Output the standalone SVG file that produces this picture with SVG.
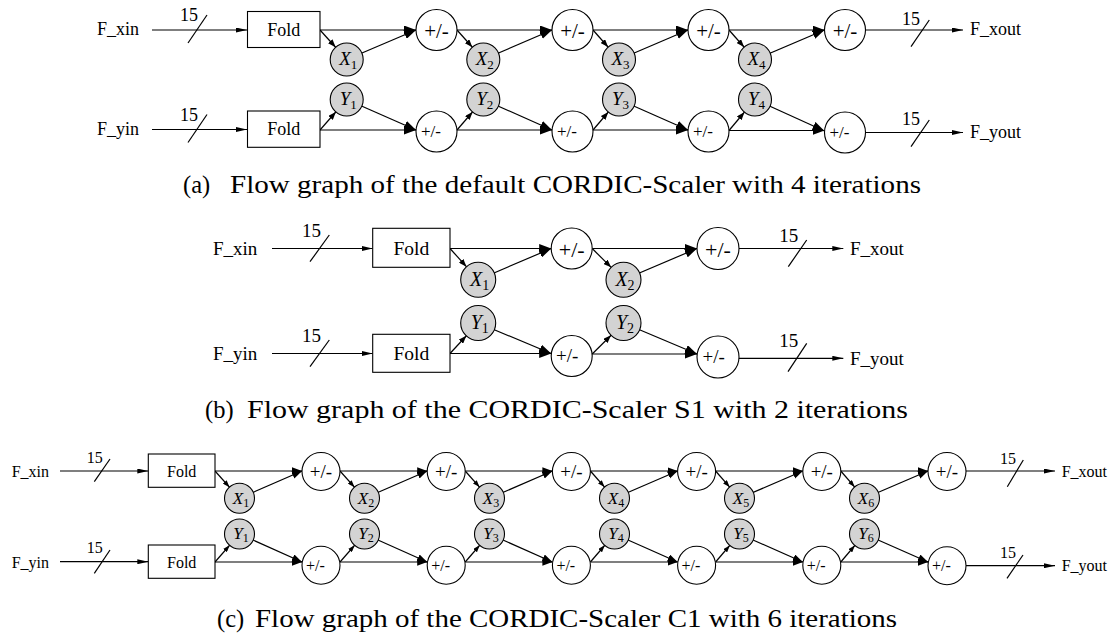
<svg xmlns="http://www.w3.org/2000/svg" width="1115" height="642" viewBox="0 0 1115 642">
<style>
text{font-family:"Liberation Serif",serif;fill:#000}
.e{stroke:#000;stroke-width:1.2;fill:none}
.pm{fill:#fff;stroke:#000;stroke-width:1.1}
.g{fill:#d3d3d3;stroke:#000;stroke-width:1.1}
.box{fill:#fff;stroke:#000;stroke-width:1.1}
.it{font-style:italic}
.m{text-anchor:middle}
.cap{font-size:24.5px}
</style>
<defs>
<marker id="an" markerUnits="userSpaceOnUse" markerWidth="12" markerHeight="5" refX="11" refY="2.5" orient="auto"><path d="M0,0 L11,2.5 L0,5 z" fill="#000"/></marker>
<marker id="ab" markerUnits="userSpaceOnUse" markerWidth="13" markerHeight="9" refX="12" refY="4.5" orient="auto"><path d="M0,0 L12,4.5 L0,9 z" fill="#000"/></marker>
<marker id="abc" markerUnits="userSpaceOnUse" markerWidth="11" markerHeight="8" refX="10" refY="3.75" orient="auto"><path d="M0,0 L10,3.75 L0,7.5 z" fill="#000"/></marker>
<marker id="axa" markerUnits="userSpaceOnUse" markerWidth="9" markerHeight="6" refX="24.5" refY="3" orient="auto"><path d="M0,0 L8,3 L0,6 z" fill="#000"/></marker>
<marker id="axb" markerUnits="userSpaceOnUse" markerWidth="9" markerHeight="6" refX="25.5" refY="3" orient="auto"><path d="M0,0 L8,3 L0,6 z" fill="#000"/></marker>
<marker id="axc" markerUnits="userSpaceOnUse" markerWidth="8" markerHeight="5" refX="22" refY="2.5" orient="auto"><path d="M0,0 L7,2.5 L0,5 z" fill="#000"/></marker>
</defs>

<g id="connectors">
<!-- panel a top -->
<path class="e" d="M152,30 H247" marker-end="url(#an)"/>
<path class="e" d="M188,43 L207,15"/>
<path class="e" d="M320,30 H416" marker-end="url(#ab)"/>
<path class="e" d="M320,30 L346.7,59.5" marker-end="url(#axa)"/>
<path class="e" d="M346.7,59.5 L416,30" marker-end="url(#ab)"/>
<path class="e" d="M457,30 H552" marker-end="url(#ab)"/>
<path class="e" d="M457,30 L483.3,59.5" marker-end="url(#axa)"/>
<path class="e" d="M483.3,59.5 L552,30" marker-end="url(#ab)"/>
<path class="e" d="M593,30 H688" marker-end="url(#ab)"/>
<path class="e" d="M593,30 L619,59.5" marker-end="url(#axa)"/>
<path class="e" d="M619,59.5 L688,30" marker-end="url(#ab)"/>
<path class="e" d="M729,30 H824.5" marker-end="url(#ab)"/>
<path class="e" d="M729,30 L755,59.5" marker-end="url(#axa)"/>
<path class="e" d="M755,59.5 L824.5,30" marker-end="url(#ab)"/>
<path class="e" d="M865.5,30 H963" marker-end="url(#an)"/>
<path class="e" d="M911,46.7 L929.3,20"/>
<!-- panel a bottom -->
<path class="e" d="M152,129.5 H247" marker-end="url(#an)"/>
<path class="e" d="M188,142.5 L207,114.5"/>
<path class="e" d="M320,130 H416" marker-end="url(#ab)"/>
<path class="e" d="M320,130 L346.7,99.5" marker-end="url(#axa)"/>
<path class="e" d="M346.7,99.5 L416,130" marker-end="url(#ab)"/>
<path class="e" d="M457,130 H552" marker-end="url(#ab)"/>
<path class="e" d="M457,130 L483.3,99.5" marker-end="url(#axa)"/>
<path class="e" d="M483.3,99.5 L552,130" marker-end="url(#ab)"/>
<path class="e" d="M593,130 H688" marker-end="url(#ab)"/>
<path class="e" d="M593,130 L619,99.5" marker-end="url(#axa)"/>
<path class="e" d="M619,99.5 L688,130" marker-end="url(#ab)"/>
<path class="e" d="M729,130.5 H824.5" marker-end="url(#ab)"/>
<path class="e" d="M729,130.5 L755,99.5" marker-end="url(#axa)"/>
<path class="e" d="M755,99.5 L824.5,131" marker-end="url(#ab)"/>
<path class="e" d="M865.5,132.5 H963" marker-end="url(#an)"/>
<path class="e" d="M911,146.7 L929.3,120"/>

<!-- panel b top -->
<path class="e" d="M272,248.5 H372.7" marker-end="url(#an)"/>
<path class="e" d="M310,261.7 L329.3,235"/>
<path class="e" d="M450,248.5 H551.2" marker-end="url(#ab)"/>
<path class="e" d="M450,248.5 L478.2,279.7" marker-end="url(#axb)"/>
<path class="e" d="M478.2,279.7 L551.2,248.5" marker-end="url(#ab)"/>
<path class="e" d="M592.2,248.5 H697" marker-end="url(#ab)"/>
<path class="e" d="M592.2,248.5 L623.5,279.7" marker-end="url(#axb)"/>
<path class="e" d="M623.5,279.7 L697,248.5" marker-end="url(#ab)"/>
<path class="e" d="M739,248.5 H843.3" marker-end="url(#an)"/>
<path class="e" d="M788.3,266.7 L806.7,240"/>
<!-- panel b bottom -->
<path class="e" d="M272,353.5 H372.7" marker-end="url(#an)"/>
<path class="e" d="M310,366.7 L329.3,340"/>
<path class="e" d="M450,353.5 H551.2" marker-end="url(#ab)"/>
<path class="e" d="M450,353.5 L478.2,323" marker-end="url(#axb)"/>
<path class="e" d="M478.2,323 L551.2,353.5" marker-end="url(#ab)"/>
<path class="e" d="M592.2,354 H697" marker-end="url(#ab)"/>
<path class="e" d="M592.2,354 L623.5,323" marker-end="url(#axb)"/>
<path class="e" d="M623.5,323 L697,354" marker-end="url(#ab)"/>
<path class="e" d="M739,358.3 H843.3" marker-end="url(#an)"/>
<path class="e" d="M788,371.7 L806.7,343.3"/>

<!-- panel c top -->
<path class="e" d="M60,471 H148.3" marker-end="url(#an)"/>
<path class="e" d="M94.3,481.7 L110,459"/>
<path class="e" d="M215,471 H302" marker-end="url(#abc)"/>
<path class="e" d="M215,471 L239.5,498.3" marker-end="url(#axc)"/>
<path class="e" d="M239.5,498.3 L302,471" marker-end="url(#abc)"/>
<path class="e" d="M340,471 H427.2" marker-end="url(#abc)"/>
<path class="e" d="M340,471 L364.5,498.3" marker-end="url(#axc)"/>
<path class="e" d="M364.5,498.3 L427.2,471" marker-end="url(#abc)"/>
<path class="e" d="M465.2,471 H552.4" marker-end="url(#abc)"/>
<path class="e" d="M465.2,471 L489.5,498.3" marker-end="url(#axc)"/>
<path class="e" d="M489.5,498.3 L552.4,471" marker-end="url(#abc)"/>
<path class="e" d="M590.4,471 H677.6" marker-end="url(#abc)"/>
<path class="e" d="M590.4,471 L614.5,498.3" marker-end="url(#axc)"/>
<path class="e" d="M614.5,498.3 L677.6,471" marker-end="url(#abc)"/>
<path class="e" d="M715.6,471 H802.8" marker-end="url(#abc)"/>
<path class="e" d="M715.6,471 L739.5,498.3" marker-end="url(#axc)"/>
<path class="e" d="M739.5,498.3 L802.8,471" marker-end="url(#abc)"/>
<path class="e" d="M840.8,471 H928" marker-end="url(#abc)"/>
<path class="e" d="M840.8,471 L864.5,498.3" marker-end="url(#axc)"/>
<path class="e" d="M864.5,498.3 L928,471" marker-end="url(#abc)"/>
<path class="e" d="M966,471 H1055" marker-end="url(#an)"/>
<path class="e" d="M1007.3,486.7 L1023.3,460"/>
<!-- panel c bottom -->
<path class="e" d="M60,561.7 H148.3" marker-end="url(#an)"/>
<path class="e" d="M94.3,573.3 L110,550"/>
<path class="e" d="M215,562 H302" marker-end="url(#abc)"/>
<path class="e" d="M215,562 L239.5,534" marker-end="url(#axc)"/>
<path class="e" d="M239.5,534 L302,562" marker-end="url(#abc)"/>
<path class="e" d="M340,562 H427.2" marker-end="url(#abc)"/>
<path class="e" d="M340,562 L364.5,534" marker-end="url(#axc)"/>
<path class="e" d="M364.5,534 L427.2,562" marker-end="url(#abc)"/>
<path class="e" d="M465.2,562 H552.4" marker-end="url(#abc)"/>
<path class="e" d="M465.2,562 L489.5,534" marker-end="url(#axc)"/>
<path class="e" d="M489.5,534 L552.4,562" marker-end="url(#abc)"/>
<path class="e" d="M590.4,562 H677.6" marker-end="url(#abc)"/>
<path class="e" d="M590.4,562 L614.5,534" marker-end="url(#axc)"/>
<path class="e" d="M614.5,534 L677.6,562" marker-end="url(#abc)"/>
<path class="e" d="M715.6,562 H802.8" marker-end="url(#abc)"/>
<path class="e" d="M715.6,562 L739.5,534" marker-end="url(#axc)"/>
<path class="e" d="M739.5,534 L802.8,562" marker-end="url(#abc)"/>
<path class="e" d="M840.8,562 H928" marker-end="url(#abc)"/>
<path class="e" d="M840.8,562 L864.5,534" marker-end="url(#axc)"/>
<path class="e" d="M864.5,534 L928,562" marker-end="url(#abc)"/>
<path class="e" d="M966,565.7 H1055" marker-end="url(#an)"/>
<path class="e" d="M1007,578.3 L1023,555"/>
</g>

<!-- ================= Panel A ================= -->
<g id="a-labels" font-size="18">
<text x="97" y="35">F_xin</text>
<text x="97" y="135">F_yin</text>
<text x="180" y="20.5">15</text>
<text x="180" y="121">15</text>
<text x="902" y="25">15</text>
<text x="902" y="124.5">15</text>
<text x="970" y="35">F_xout</text>
<text x="970" y="138">F_yout</text>
</g>
<g id="a-foldx"><rect class="box" x="247.5" y="11.5" width="72.5" height="36"/><text class="m" x="283.7" y="35.5" font-size="18">Fold</text></g>
<g id="a-foldy"><rect class="box" x="247.5" y="111" width="72.5" height="36.3"/><text class="m" x="283.7" y="135" font-size="18">Fold</text></g>
<g id="a-x1"><circle class="g" cx="346.7" cy="59.5" r="16.5"/><text class="m" x="348.2" y="65" font-size="19"><tspan class="it">X</tspan><tspan font-size="13" dy="3.5">1</tspan></text></g>
<g id="a-x2"><circle class="g" cx="483.3" cy="59.5" r="16.5"/><text class="m" x="484.8" y="65" font-size="19"><tspan class="it">X</tspan><tspan font-size="13" dy="3.5">2</tspan></text></g>
<g id="a-x3"><circle class="g" cx="619" cy="59.5" r="16.5"/><text class="m" x="620.5" y="65" font-size="19"><tspan class="it">X</tspan><tspan font-size="13" dy="3.5">3</tspan></text></g>
<g id="a-x4"><circle class="g" cx="755" cy="59.5" r="16.5"/><text class="m" x="756.5" y="65" font-size="19"><tspan class="it">X</tspan><tspan font-size="13" dy="3.5">4</tspan></text></g>
<g id="a-y1"><circle class="g" cx="346.7" cy="99.5" r="16.5"/><text class="m" x="348.2" y="105" font-size="19"><tspan class="it">Y</tspan><tspan font-size="13" dy="3.5">1</tspan></text></g>
<g id="a-y2"><circle class="g" cx="483.3" cy="99.5" r="16.5"/><text class="m" x="484.8" y="105" font-size="19"><tspan class="it">Y</tspan><tspan font-size="13" dy="3.5">2</tspan></text></g>
<g id="a-y3"><circle class="g" cx="619" cy="99.5" r="16.5"/><text class="m" x="620.5" y="105" font-size="19"><tspan class="it">Y</tspan><tspan font-size="13" dy="3.5">3</tspan></text></g>
<g id="a-y4"><circle class="g" cx="755" cy="99.5" r="16.5"/><text class="m" x="756.5" y="105" font-size="19"><tspan class="it">Y</tspan><tspan font-size="13" dy="3.5">4</tspan></text></g>
<g id="a-px1"><circle class="pm" cx="436.5" cy="30" r="20.5"/><text class="m" x="436.5" y="37.5" font-size="21">+/-</text></g>
<g id="a-px2"><circle class="pm" cx="572.5" cy="30" r="20.5"/><text class="m" x="572.5" y="37.5" font-size="21">+/-</text></g>
<g id="a-px3"><circle class="pm" cx="708.5" cy="30" r="20.5"/><text class="m" x="708.5" y="37.5" font-size="21">+/-</text></g>
<g id="a-px4"><circle class="pm" cx="845" cy="30" r="20.5"/><text class="m" x="845" y="37.5" font-size="21">+/-</text></g>
<g id="a-py1"><circle class="pm" cx="436.5" cy="131.5" r="20.5"/><text x="421" y="137" font-size="17">+/-</text></g>
<g id="a-py2"><circle class="pm" cx="572.5" cy="131.5" r="20.5"/><text x="557" y="137" font-size="17">+/-</text></g>
<g id="a-py3"><circle class="pm" cx="708.5" cy="131.5" r="20.5"/><text x="693" y="137" font-size="17">+/-</text></g>
<g id="a-py4"><circle class="pm" cx="845" cy="132.5" r="20.5"/><text x="829.5" y="138" font-size="17">+/-</text></g>

<!-- ================= Panel B ================= -->
<g id="b-labels" font-size="19">
<text x="213" y="255">F_xin</text>
<text x="213" y="360">F_yin</text>
<text x="302" y="237">15</text>
<text x="302" y="342">15</text>
<text x="779.3" y="242">15</text>
<text x="779.3" y="347">15</text>
<text x="850" y="255">F_xout</text>
<text x="850" y="365">F_yout</text>
</g>
<g id="b-foldx"><rect class="box" x="372.7" y="228.3" width="77.3" height="39"/><text class="m" x="411.3" y="255" font-size="19.5">Fold</text></g>
<g id="b-foldy"><rect class="box" x="372.7" y="334.3" width="77.3" height="38"/><text class="m" x="411.3" y="360" font-size="19.5">Fold</text></g>
<g id="b-x1"><circle class="g" cx="478.2" cy="279.7" r="17.5"/><text class="m" x="479.7" y="286" font-size="20"><tspan class="it">X</tspan><tspan font-size="14" dy="3.5">1</tspan></text></g>
<g id="b-x2"><circle class="g" cx="623.5" cy="279.7" r="17.5"/><text class="m" x="625" y="286" font-size="20"><tspan class="it">X</tspan><tspan font-size="14" dy="3.5">2</tspan></text></g>
<g id="b-y1"><circle class="g" cx="478.2" cy="323" r="17.5"/><text class="m" x="479.7" y="329.3" font-size="20"><tspan class="it">Y</tspan><tspan font-size="14" dy="3.5">1</tspan></text></g>
<g id="b-y2"><circle class="g" cx="623.5" cy="323" r="17.5"/><text class="m" x="625" y="329.3" font-size="20"><tspan class="it">Y</tspan><tspan font-size="14" dy="3.5">2</tspan></text></g>
<g id="b-px1"><circle class="pm" cx="571.7" cy="248.5" r="20.5"/><text class="m" x="571.7" y="256.5" font-size="22">+/-</text></g>
<g id="b-px2"><circle class="pm" cx="718" cy="248.5" r="21"/><text class="m" x="718" y="256.5" font-size="22">+/-</text></g>
<g id="b-py1"><circle class="pm" cx="571.7" cy="356" r="20.5"/><text x="556" y="362" font-size="19">+/-</text></g>
<g id="b-py2"><circle class="pm" cx="718" cy="357" r="21"/><text x="702.5" y="363" font-size="19">+/-</text></g>

<!-- ================= Panel C ================= -->
<g id="c-labels" font-size="16">
<text x="11.7" y="477">F_xin</text>
<text x="11.7" y="568">F_yin</text>
<text x="86.7" y="462.5">15</text>
<text x="86.7" y="553.3">15</text>
<text x="1000" y="463.5">15</text>
<text x="1000" y="558">15</text>
<text x="1061.7" y="477">F_xout</text>
<text x="1061.7" y="571">F_yout</text>
</g>
<g id="c-foldx"><rect class="box" x="148.3" y="454" width="66.7" height="33.3"/><text class="m" x="181.7" y="476.5" font-size="16">Fold</text></g>
<g id="c-foldy"><rect class="box" x="148.3" y="545" width="66.7" height="33.3"/><text class="m" x="181.7" y="567.5" font-size="16">Fold</text></g>
<g id="c-x1"><circle class="g" cx="239.5" cy="498.3" r="15"/><text class="m" x="241" y="503.5" font-size="17"><tspan class="it">X</tspan><tspan font-size="12" dy="3">1</tspan></text></g>
<g id="c-x2"><circle class="g" cx="364.5" cy="498.3" r="15"/><text class="m" x="366" y="503.5" font-size="17"><tspan class="it">X</tspan><tspan font-size="12" dy="3">2</tspan></text></g>
<g id="c-x3"><circle class="g" cx="489.5" cy="498.3" r="15"/><text class="m" x="491" y="503.5" font-size="17"><tspan class="it">X</tspan><tspan font-size="12" dy="3">3</tspan></text></g>
<g id="c-x4"><circle class="g" cx="614.5" cy="498.3" r="15"/><text class="m" x="616" y="503.5" font-size="17"><tspan class="it">X</tspan><tspan font-size="12" dy="3">4</tspan></text></g>
<g id="c-x5"><circle class="g" cx="739.5" cy="498.3" r="15"/><text class="m" x="741" y="503.5" font-size="17"><tspan class="it">X</tspan><tspan font-size="12" dy="3">5</tspan></text></g>
<g id="c-x6"><circle class="g" cx="864.5" cy="498.3" r="15"/><text class="m" x="866" y="503.5" font-size="17"><tspan class="it">X</tspan><tspan font-size="12" dy="3">6</tspan></text></g>
<g id="c-y1"><circle class="g" cx="239.5" cy="534" r="15"/><text class="m" x="241" y="539.2" font-size="17"><tspan class="it">Y</tspan><tspan font-size="12" dy="3">1</tspan></text></g>
<g id="c-y2"><circle class="g" cx="364.5" cy="534" r="15"/><text class="m" x="366" y="539.2" font-size="17"><tspan class="it">Y</tspan><tspan font-size="12" dy="3">2</tspan></text></g>
<g id="c-y3"><circle class="g" cx="489.5" cy="534" r="15"/><text class="m" x="491" y="539.2" font-size="17"><tspan class="it">Y</tspan><tspan font-size="12" dy="3">3</tspan></text></g>
<g id="c-y4"><circle class="g" cx="614.5" cy="534" r="15"/><text class="m" x="616" y="539.2" font-size="17"><tspan class="it">Y</tspan><tspan font-size="12" dy="3">4</tspan></text></g>
<g id="c-y5"><circle class="g" cx="739.5" cy="534" r="15"/><text class="m" x="741" y="539.2" font-size="17"><tspan class="it">Y</tspan><tspan font-size="12" dy="3">5</tspan></text></g>
<g id="c-y6"><circle class="g" cx="864.5" cy="534" r="15"/><text class="m" x="866" y="539.2" font-size="17"><tspan class="it">Y</tspan><tspan font-size="12" dy="3">6</tspan></text></g>
<g id="c-px1"><circle class="pm" cx="321" cy="471.5" r="19"/><text class="m" x="321" y="478" font-size="19">+/-</text></g>
<g id="c-px2"><circle class="pm" cx="446.2" cy="471.5" r="19"/><text class="m" x="446.2" y="478" font-size="19">+/-</text></g>
<g id="c-px3"><circle class="pm" cx="571.4" cy="471.5" r="19"/><text class="m" x="571.4" y="478" font-size="19">+/-</text></g>
<g id="c-px4"><circle class="pm" cx="696.6" cy="471.5" r="19"/><text class="m" x="696.6" y="478" font-size="19">+/-</text></g>
<g id="c-px5"><circle class="pm" cx="821.8" cy="471.5" r="19"/><text class="m" x="821.8" y="478" font-size="19">+/-</text></g>
<g id="c-px6"><circle class="pm" cx="947" cy="471.5" r="19"/><text class="m" x="947" y="478" font-size="19">+/-</text></g>
<g id="c-py1"><circle class="pm" cx="321" cy="565.3" r="19"/><text x="306" y="570.8" font-size="16">+/-</text></g>
<g id="c-py2"><circle class="pm" cx="446.2" cy="565.3" r="19"/><text x="431.2" y="570.8" font-size="16">+/-</text></g>
<g id="c-py3"><circle class="pm" cx="571.4" cy="565.3" r="19"/><text x="556.4" y="570.8" font-size="16">+/-</text></g>
<g id="c-py4"><circle class="pm" cx="696.6" cy="565.3" r="19"/><text x="681.6" y="570.8" font-size="16">+/-</text></g>
<g id="c-py5"><circle class="pm" cx="821.8" cy="565.3" r="19"/><text x="806.8" y="570.8" font-size="16">+/-</text></g>
<g id="c-py6"><circle class="pm" cx="947" cy="565.7" r="19"/><text x="932" y="571.2" font-size="16">+/-</text></g>

<!-- captions -->
<g id="captions" class="cap">
<text x="183" y="193">(a)</text>
<text x="230" y="193" textLength="691" lengthAdjust="spacingAndGlyphs">Flow graph of the default CORDIC-Scaler with 4 iterations</text>
<text x="205" y="418">(b)</text>
<text x="247" y="418" textLength="661" lengthAdjust="spacingAndGlyphs">Flow graph of the CORDIC-Scaler S1 with 2 iterations</text>
<text x="217" y="627">(c)</text>
<text x="255" y="627" textLength="642" lengthAdjust="spacingAndGlyphs">Flow graph of the CORDIC-Scaler C1 with 6 iterations</text>
</g>
</svg>
